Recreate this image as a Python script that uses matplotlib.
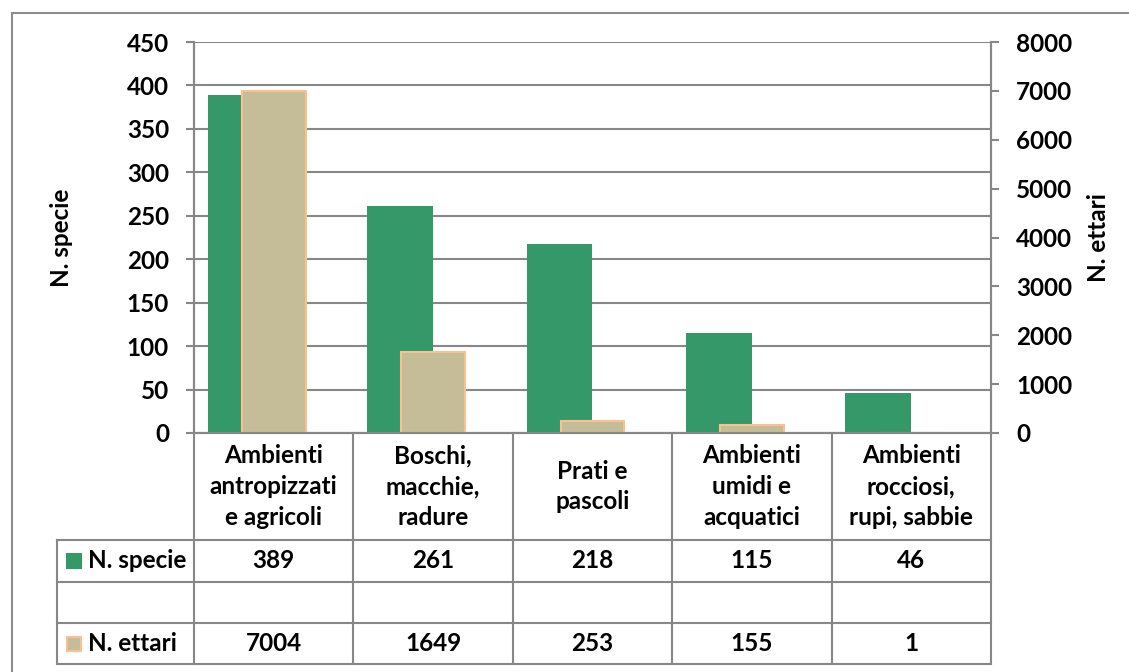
import numpy as np
import matplotlib
matplotlib.use('Agg')
import matplotlib.pyplot as plt
from matplotlib.patches import Rectangle
from matplotlib.lines import Line2D
import matplotlib.transforms as mtransforms

plt.rcParams['font.family'] = ['Lato', 'DejaVu Sans']
plt.rcParams['font.weight'] = 'bold'

""" Data """

categories = ['Ambienti\nantropizzati\ne agricoli', 'Boschi,\nmacchie,\nradure',
              'Prati e\npascoli', 'Ambienti\numidi e\nacquatici', 'Ambienti\nrocciosi,\nrupi, sabbie']
n_specie = [389, 261, 218, 115, 46]
n_ettari = [7004, 1649, 253, 155, 1]
series_names = ['N. specie', 'N. ettari']

""" Style """

W, H = 1129, 672
green = '#349868'
tan = '#C4BD97'
tan_edge = '#FAC090'
grey = '#878787'
fs = 17.5

fig = plt.figure(figsize=(W/100, H/100), dpi=100)

def fx(x):  # pixel -> figure fraction
    return x/W

def fy(y):
    return 1 - y/H

ax = fig.add_axes([fx(194), fy(433), (991-194)/W, (433-42)/H])
ax2 = ax.twinx()

x = np.arange(len(categories))

## bars
ax.bar(x - 0.207, n_specie, width=0.414, color=green, zorder=2)
ax2.bar(x, n_ettari, width=0.40, color=tan, edgecolor=tan_edge, linewidth=1.5, zorder=2)

ax.set_xlim(-0.5, len(categories) - 0.5)
ax.set_ylim(0, 450)
ax.set_yticks(np.arange(0, 451, 50))
ax2.set_ylim(0, 8000)
ax2.set_yticks(np.arange(0, 8001, 1000))

ax.yaxis.grid(True, color=grey, linewidth=1.5, zorder=0)
ax.set_axisbelow(True)
ax.set_xticks([])

for a in (ax, ax2):
    for s in a.spines.values():
        s.set_color(grey)
        s.set_linewidth(1.5)
    a.spines['top'].set_visible(False)
    a.tick_params(axis='y', direction='out', length=6, width=1.5, color=grey,
                  labelsize=fs, pad=12)
    for lab in a.get_yticklabels():
        lab.set_fontweight('bold')

ax.set_ylabel('N. specie', fontsize=fs, fontweight='bold')
ax.yaxis.set_label_coords(-0.152, 0.5)
ax2.set_ylabel('N. ettari', fontsize=fs, fontweight='bold', rotation=90)
ax2.yaxis.set_label_coords(1.1205, 0.5)

## data table under the chart
tr = mtransforms.blended_transform_factory(ax.transData, fig.transFigure)
col_edges = np.arange(len(categories) + 1) - 0.5
rows_y = [433, 540, 582, 623, 664]
left_px = 57

for xe in col_edges:
    fig.add_artist(Line2D([xe, xe], [fy(433), fy(664)], transform=tr, color=grey, lw=1.5))
fig.add_artist(Line2D([fx(left_px), fx(left_px)], [fy(540), fy(664)], transform=fig.transFigure,
                      color=grey, lw=1.5))
for yr in rows_y[1:]:
    fig.add_artist(Line2D([fx(left_px), fx(991)], [fy(yr), fy(yr)], transform=fig.transFigure,
                          color=grey, lw=1.5))

for i, cat in enumerate(categories):
    fig.text(x[i], fy((433+540)/2), cat, transform=tr, ha='center', va='center',
             fontsize=fs, fontweight='bold', linespacing=1.42)
    fig.text(x[i], fy((540+582)/2), str(n_specie[i]), transform=tr, ha='center', va='center',
             fontsize=fs, fontweight='bold')
    fig.text(x[i], fy((623+664)/2), str(n_ettari[i]), transform=tr, ha='center', va='center',
             fontsize=fs, fontweight='bold')

# legend keys in the table
for (yc, name, fc, ec) in [((540+582)/2, series_names[0], green, green),
                           ((623+664)/2, series_names[1], tan, tan_edge)]:
    fig.add_artist(Rectangle((fx(67), fy(yc+7)), 14/W, 14/H, transform=fig.transFigure,
                             facecolor=fc, edgecolor=ec, lw=1.5))
    fig.text(fx(88), fy(yc), name, ha='left', va='center', fontsize=fs, fontweight='bold')

## outer chart border
fig.add_artist(Rectangle((fx(11.5), fy(700)), (1200-11.5)/W, (700-12.5)/H,
                         transform=fig.transFigure, fill=False, edgecolor='#8c8c8c', lw=1.5))

fig.savefig('out.png', dpi=100)
